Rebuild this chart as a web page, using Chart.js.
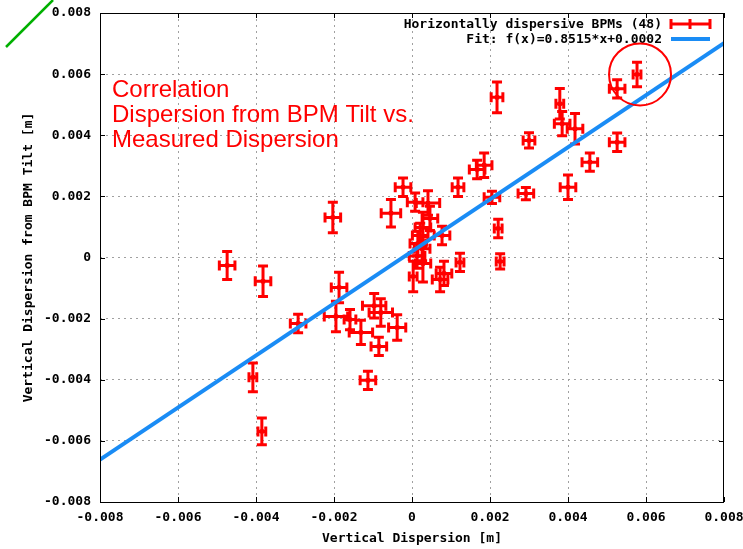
<!DOCTYPE html>
<html>
<head>
<meta charset="utf-8">
<script src="https://cdn.jsdelivr.net/npm/chart.js@4.4.0/dist/chart.umd.min.js"></script>
<style>
  html, body { margin: 0; padding: 0; background: #fff; }
</style>
</head>
<body>
<canvas id="chartDisp" width="743" height="549"></canvas>
<script>
// correlacion dispersion medida vs dispersion de BPM tilt
const dispMedida = [
  -0.00474, -0.00382, -0.00292, -0.00408, -0.00385, -0.00203, -0.00187, -0.00195,
  -0.00159, -0.00131, -0.00113, -0.00097, -0.00080, -0.00085, -0.00038, -0.00023,
  -0.00054, 0.00008, 0.00041, 0.00046, 0.00028, 0.00021, 0.00015, 0.00026,
  0.00003, 0.00028, 0.00072, 0.00082, 0.00123, 0.00077, 0.00118, 0.00167,
  0.00185, 0.00205, 0.00221, 0.00226, 0.00292, 0.00218, 0.00300, 0.00379,
  0.00385, 0.00418, 0.00400, 0.00456, 0.00526, 0.00526, 0.00577, 0.00013
];
const dispTilt = [
  -0.00026, -0.00078, -0.00216, -0.00392, -0.00569, 0.00131, -0.00098, -0.00193,
  -0.00203, -0.00245, -0.00402, -0.00158, -0.00180, -0.00291, -0.00229, 0.00230,
  0.00145, 0.00181, 0.00178, 0.00128, 0.00098, 0.00072, 0.00046, 0.00029,
  -0.00062, -0.00020, -0.00072, -0.00052, -0.00016, 0.00072, 0.00230, 0.00288,
  0.00302, 0.00197, 0.00095, -0.00013, 0.00209, 0.00524, 0.00383, 0.00503,
  0.00438, 0.00421, 0.00230, 0.00312, 0.00377, 0.00552, 0.00599, 0.00005
];
const errX = [
  0.0002, 0.0002, 0.0002, 0.0001, 0.0001, 0.0002, 0.0002, 0.0003,
  0.00015, 0.0003, 0.0002, 0.0003, 0.0003, 0.0002, 0.00022, 0.0002,
  0.00025, 0.0002, 0.0003, 0.0002, 0.0002, 0.0002, 0.0002, 0.0002,
  0.0001, 0.0002, 0.0002, 0.0002, 0.0001, 0.0002, 0.00015, 0.0002,
  0.0002, 0.0002, 0.0001, 0.0001, 0.0002, 0.00015, 0.00015, 0.0001,
  0.0002, 0.0002, 0.0002, 0.0002, 0.0002, 0.0002, 0.0001, 0.0002
];
const errY = [
  0.00046, 0.0005, 0.0003, 0.00047, 0.00044, 0.0005, 0.0005, 0.0005,
  0.00033, 0.0004, 0.0003, 0.0004, 0.00045, 0.0003, 0.00042, 0.0003,
  0.00045, 0.0003, 0.0004, 0.0004, 0.0005, 0.0004, 0.0004, 0.0004,
  0.0005, 0.0006, 0.0004, 0.0004, 0.0003, 0.0003, 0.0003, 0.0003,
  0.0004, 0.0002, 0.0003, 0.00025, 0.0002, 0.0005, 0.00025, 0.0005,
  0.0004, 0.0005, 0.0004, 0.0003, 0.0003, 0.0003, 0.0004, 0.0004
];
const ajusteX = [-0.008, 0.008];
const ajusteY = [-0.006612, 0.007012];
const marcas = [-0.008, -0.006, -0.004, -0.002, 0, 0.002, 0.004, 0.006, 0.008];
const notaTexto = ['Correlation', 'Dispersion from BPM Tilt vs.', 'Measured Dispersion'];
const puntoMarcado = [0.00577, 0.00599];

const rojo = '#ff0000';
const azul = '#1a8cf5';
const fuenteMono = { family: 'DejaVu Sans Mono', size: 13, weight: 'bold' };

function fmtMarca(v) {
  return Math.abs(v) < 1e-9 ? '0' : Number(v).toFixed(3);
}

function colorRejilla(c) {
  const v = c.tick ? c.tick.value : 0;
  return (Math.abs(Math.abs(v) - 0.008) < 1e-9) ? 'rgba(0,0,0,0)' : '#a0a0a0';
}

const extras = {
  id: 'extras',
  beforeDatasetsDraw(chart) {
    const { ctx, scales: { x, y } } = chart;
    const cap = 5;
    ctx.save();
    ctx.strokeStyle = rojo;
    ctx.lineWidth = 3;
    for (let i = 0; i < dispMedida.length; i++) {
      const px = x.getPixelForValue(dispMedida[i]);
      const py = y.getPixelForValue(dispTilt[i]);
      const x0 = x.getPixelForValue(dispMedida[i] - errX[i]);
      const x1 = x.getPixelForValue(dispMedida[i] + errX[i]);
      const y0 = y.getPixelForValue(dispTilt[i] - errY[i]);
      const y1 = y.getPixelForValue(dispTilt[i] + errY[i]);
      ctx.beginPath();
      ctx.moveTo(x0, py); ctx.lineTo(x1, py);
      ctx.moveTo(px, y0); ctx.lineTo(px, y1);
      ctx.moveTo(x0, py - cap); ctx.lineTo(x0, py + cap);
      ctx.moveTo(x1, py - cap); ctx.lineTo(x1, py + cap);
      ctx.moveTo(px - cap, y0); ctx.lineTo(px + cap, y0);
      ctx.moveTo(px - cap, y1); ctx.lineTo(px + cap, y1);
      ctx.stroke();
    }
    ctx.restore();
  },
  afterDraw(chart) {
    const { ctx, chartArea: a, scales: { x, y } } = chart;
    ctx.save();
    // borde y marcas hacia dentro
    ctx.strokeStyle = '#000';
    ctx.lineWidth = 1;
    ctx.strokeRect(a.left + 0.5, a.top + 0.5, a.right - a.left - 1, a.bottom - a.top);
    ctx.beginPath();
    marcas.forEach(v => {
      const px = Math.round(x.getPixelForValue(v)) + 0.5;
      const py = Math.round(y.getPixelForValue(v)) + 0.5;
      ctx.moveTo(px, a.bottom); ctx.lineTo(px, a.bottom - 5);
      ctx.moveTo(px, a.top); ctx.lineTo(px, a.top + 5);
      ctx.moveTo(a.left, py); ctx.lineTo(a.left + 5, py);
      ctx.moveTo(a.right, py); ctx.lineTo(a.right - 5, py);
    });
    ctx.stroke();

    // leyenda
    const ds = chart.data.datasets;
    ctx.font = 'bold 13px "DejaVu Sans Mono"';
    ctx.fillStyle = '#000';
    ctx.textAlign = 'right';
    ctx.textBaseline = 'middle';
    ctx.fillText(ds[1].label, 662, 25);
    ctx.fillText(ds[0].label, 662, 40);
    ctx.strokeStyle = rojo;
    ctx.lineWidth = 3;
    ctx.beginPath();
    ctx.moveTo(671, 24); ctx.lineTo(710, 24);
    ctx.moveTo(671, 19); ctx.lineTo(671, 29);
    ctx.moveTo(710, 19); ctx.lineTo(710, 29);
    ctx.moveTo(690, 19); ctx.lineTo(690, 29);
    ctx.stroke();
    ctx.strokeStyle = azul;
    ctx.lineWidth = 4;
    ctx.beginPath();
    ctx.moveTo(671, 39); ctx.lineTo(710, 39);
    ctx.stroke();

    // nota en rojo
    ctx.font = '24px "Liberation Sans"';
    ctx.fillStyle = rojo;
    ctx.textAlign = 'left';
    ctx.textBaseline = 'alphabetic';
    notaTexto.forEach((t, i) => ctx.fillText(t, 112, 97 + i * 25));

    // circulo alrededor del punto
    ctx.strokeStyle = rojo;
    ctx.lineWidth = 2;
    ctx.beginPath();
    ctx.arc(x.getPixelForValue(puntoMarcado[0]) + 3, y.getPixelForValue(puntoMarcado[1]), 31, 0, Math.PI * 2);
    ctx.stroke();

    // trazo verde arriba a la izquierda
    ctx.strokeStyle = '#00b000';
    ctx.lineWidth = 2.5;
    ctx.beginPath();
    ctx.moveTo(6, 47); ctx.lineTo(53, 0);
    ctx.stroke();
    ctx.restore();
  }
};

const ctx = document.getElementById('chartDisp').getContext('2d');
window.chartDisp = new Chart(ctx, {
  data: {
    datasets: [{
      type: 'line',
      label: 'Fit: f(x)=0.8515*x+0.0002',
      data: ajusteX.map((v, i) => ({ x: v, y: ajusteY[i] })),
      borderColor: azul,
      borderWidth: 4,
      pointRadius: 0,
      fill: false,
      order: 0
    }, {
      type: 'scatter',
      label: 'Horizontally dispersive BPMs (48)',
      data: dispMedida.map((v, i) => ({ x: v, y: dispTilt[i] })),
      backgroundColor: rojo,
      borderColor: rojo,
      pointStyle: 'rect',
      pointRadius: 3,
      borderWidth: 0,
      order: 1
    }]
  },
  options: {
    responsive: false,
    animation: false,
    layout: { padding: { top: 13, right: 19, left: 0, bottom: 0 } },
    plugins: { legend: { display: false }, tooltip: { enabled: false } },
    scales: {
      x: {
        type: 'linear', min: -0.008, max: 0.008,
        afterBuildTicks: s => { s.ticks = marcas.map(v => ({ value: v })); },
        afterFit: s => { s.height = 47; s.paddingLeft = 0; s.paddingRight = 0; },
        ticks: { callback: fmtMarca, font: fuenteMono, color: '#000', padding: 8, maxRotation: 0, autoSkip: false },
        grid: { color: colorRejilla, lineWidth: 1, drawTicks: false },
        border: { display: false, dash: [2, 4] },
        title: { display: true, text: 'Vertical Dispersion [m]', font: fuenteMono, color: '#000', padding: { top: 0, bottom: 3 } }
      },
      y: {
        type: 'linear', min: -0.008, max: 0.008,
        afterBuildTicks: s => { s.ticks = marcas.map(v => ({ value: v })); },
        afterFit: s => { s.width = 100; s.paddingTop = 0; s.paddingBottom = 0; },
        ticks: { callback: fmtMarca, font: fuenteMono, color: '#000', padding: 9, autoSkip: false },
        grid: { color: colorRejilla, lineWidth: 1, drawTicks: false },
        border: { display: false, dash: [2, 4] },
        title: { display: true, text: 'Vertical Dispersion from BPM Tilt [m]', font: fuenteMono, color: '#000', padding: { top: 21, bottom: 0 } }
      }
    }
  },
  plugins: [extras]
});
</script>
</body>
</html>
